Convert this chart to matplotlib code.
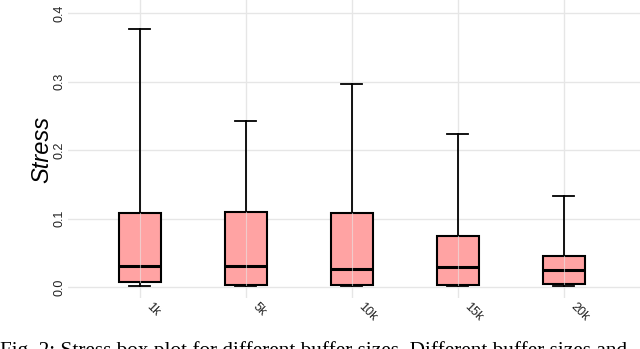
import matplotlib
matplotlib.use("Agg")
import matplotlib.pyplot as plt
import matplotlib.transforms as mtransforms

# Valores (cuartiles y bigotes por tamaño de buffer)
etiquetas = ["1k", "5k", "10k", "15k", "20k"]
bigote_inf = [0.002, 0.001, 0.001, 0.001, 0.001]
q1 = [0.007, 0.003, 0.003, 0.003, 0.004]
mediana = [0.031, 0.031, 0.026, 0.030, 0.025]
q3 = [0.108, 0.110, 0.108, 0.074, 0.045]
bigote_sup = [0.376, 0.243, 0.296, 0.224, 0.133]

caption = "Fig. 2: Stress box plot for different buffer sizes. Different buffer sizes and"

stats = []
for i in range(len(etiquetas)):
    stats.append({
        "label": etiquetas[i],
        "whislo": bigote_inf[i],
        "q1": q1[i],
        "med": mediana[i],
        "q3": q3[i],
        "whishi": bigote_sup[i],
        "fliers": [],
    })

fig = plt.figure(figsize=(6.4, 3.49), dpi=100)
ax = fig.add_axes([0.106, 0.146, 0.894, 0.854])

posiciones = list(range(1, len(etiquetas) + 1))

# rejilla estilo ggplot minimal
for p in posiciones:
    ax.axvline(p, color="#E6E6E6", lw=1.0, zorder=0)
for yv in [0.0, 0.1, 0.2, 0.3, 0.4]:
    ax.axhline(yv, color="#E6E6E6", lw=1.0, zorder=0)

ax.bxp(stats, positions=posiciones, widths=0.4, patch_artist=True,
       showfliers=False, capwidths=0.2,
       boxprops=dict(facecolor="#FFA3A3", edgecolor="black", lw=1.5, alpha=1.0),
       medianprops=dict(color="black", lw=2.2),
       whiskerprops=dict(color="black", lw=1.3),
       capprops=dict(color="black", lw=1.3))

# la rejilla se ve a traves de las cajas
for p in posiciones:
    ax.plot([p, p], [q1[p - 1], q3[p - 1]], color="#E6E6E6", lw=0.8, alpha=0.6, zorder=3)

ax.set_xlim(0.32, 5.72)
ax.set_ylim(-0.016, 0.419)
ax.set_yticks([0.0, 0.1, 0.2, 0.3, 0.4])
ax.set_yticklabels(["0.0", "0.1", "0.2", "0.3", "0.4"], rotation=90, va="center",
                   fontsize=9, color="#222222", family="Liberation Sans")
ax.set_xticks(posiciones)
ax.set_xticklabels(etiquetas, rotation=-45, ha="left", va="center", rotation_mode="anchor",
                   fontsize=9, color="#222222", family="Liberation Sans")
ax.tick_params(axis="both", length=0)
ax.tick_params(axis="y", pad=2)
ax.tick_params(axis="x", pad=5)
# desplazar un poco las etiquetas del eje x a la derecha
desplaza = mtransforms.ScaledTranslation(6 / 72, 0, fig.dpi_scale_trans)
for lbl in ax.get_xticklabels():
    lbl.set_transform(lbl.get_transform() + desplaza)
for s in ax.spines.values():
    s.set_visible(False)

ax.set_ylabel("Stress", fontsize=17, style="italic", family="Liberation Sans")
ax.yaxis.set_label_coords(-0.026, 0.5)

fig.text(0.0, -0.019, caption, fontsize=15.3, family="Liberation Serif", va="baseline", ha="left")

fig.savefig("out.png", dpi=100)
